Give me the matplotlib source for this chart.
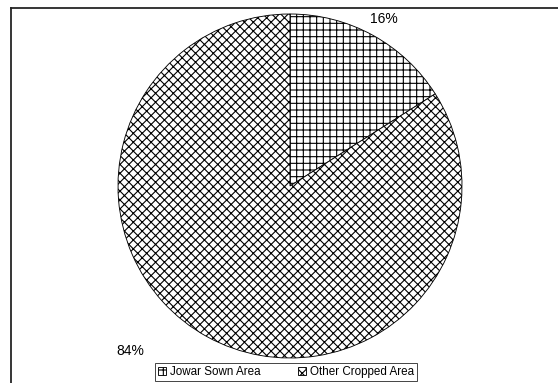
import matplotlib.pyplot as plt
from matplotlib.lines import Line2D

plt.rcParams['font.family'] = ['Liberation Sans', 'DejaVu Sans']
plt.rcParams['hatch.linewidth'] = 1.0

categories = ['Jowar Sown Area', 'Other Cropped Area']
shares = [16, 84]
hatches = ['++', 'xxx']

W, H, DPI = 558, 383, 80
fig = plt.figure(figsize=(W / DPI, H / DPI), dpi=DPI)

# outer frame (only left and top edges are inside the picture)
fig.add_artist(Line2D([11 / W, 1], [1 - 8 / H, 1 - 8 / H], color='#222222', lw=1.6,
                      transform=fig.transFigure))
fig.add_artist(Line2D([11 / W, 11 / W], [0, 1 - 8 / H], color='#222222', lw=1.6,
                      transform=fig.transFigure))

# pie box: centre (290,186), radius 172 px
cx, cy, r = 290, 186, 172
ax = fig.add_axes([(cx - r) / W, 1 - (cy + r) / H, 2 * r / W, 2 * r / H])
wedges, _ = ax.pie(shares, startangle=90, counterclock=False,
                   colors=['white', 'white'],
                   wedgeprops=dict(edgecolor='black', linewidth=0.8))
for w, h in zip(wedges, hatches):
    w.set_hatch(h)
ax.set_xlim(-1, 1)
ax.set_ylim(-1, 1)
ax.set_aspect('equal')
ax.axis('off')

# percentage labels
ax.text(0.545, 0.97, f'{shares[0]}%', fontsize=12.5, ha='center', va='center')
ax.text(-0.93, -0.96, f'{shares[1]}%', fontsize=12.5, ha='center', va='center')

leg = fig.legend(wedges, categories, ncol=2, loc='center',
                 bbox_to_anchor=(286 / W, 1 - 372 / H),
                 fontsize=10.5, frameon=True, fancybox=False, edgecolor='black',
                 handlelength=0.7, handleheight=0.7, handletextpad=0.35,
                 columnspacing=3.2, borderpad=0.25, borderaxespad=0)
leg.get_frame().set_linewidth(0.8)

fig.savefig('out.png', dpi=DPI)
